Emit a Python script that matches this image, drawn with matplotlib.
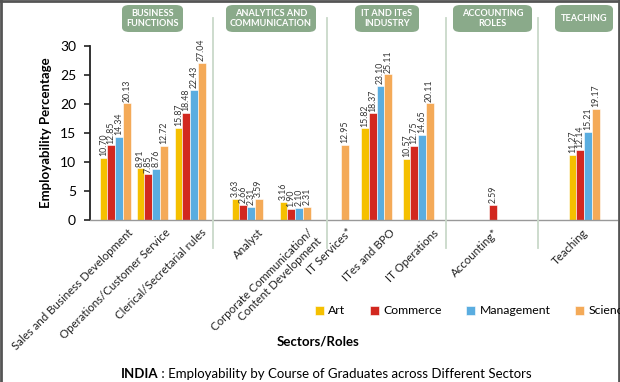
import numpy as np
import matplotlib.pyplot as plt
import matplotlib.transforms as mtrans
from matplotlib.patches import FancyBboxPatch
from matplotlib.lines import Line2D

plt.rcParams['font.family'] = ['Lato', 'DejaVu Sans']

# ~~~~~~~~~~ DATA ~~~~~~~~~~
roles = ['Sales and Business Development', 'Operations/Customer Service',
         'Clerical/Secretarial rules', 'Analyst',
         'Corporate Communication/\nContent Development', 'IT Services*',
         'ITes and BPO', 'IT Operations', 'Accounting*', 'Teaching']
courses = ['Art', 'Commerce', 'Management', 'Science']
art = [10.70, 8.91, 15.87, 3.63, 3.16, np.nan, 15.82, 10.57, np.nan, 11.27]
commerce = [12.85, 7.85, 18.48, 2.66, 1.90, np.nan, 18.37, 12.75, 2.59, 12.14]
management = [14.34, 8.76, 22.43, 2.31, 2.10, np.nan, 23.10, 14.65, np.nan, 15.21]
science = [20.13, 12.72, 27.04, 3.59, 2.31, 12.95, 25.11, 20.11, np.nan, 19.17]
sectors = ['BUSINESS\nFUNCTIONS', 'ANALYTICS AND\nCOMMUNICATION', 'IT AND ITeS\nINDUSTRY',
           'ACCOUNTING\nROLES', 'TEACHING']

# layout (axes units = pixels from left of axes)
xpos = np.array([25, 62, 100, 157, 205, 243, 286.5, 328, 407, 494])
lab_dx = [12, 13, 11, 11, 12, 14, 13, 15, -4, -2]   # label shift right, px
seps = [123, 237, 356, 448]
boxes = [(122, 183), (226, 316), (355, 419), (453, 532), (555, 613)]
colors = ['#f5c000', '#d2281f', '#5aade0', '#f4aa58']
bw = 7.75
W, H = 620, 382

fig = plt.figure(figsize=(6.2, 3.82), dpi=100)
ax = fig.add_axes([90 / W, 1 - 220 / H, 527 / W, 174 / H])

series = [art, commerce, management, science]
for j, vals in enumerate(series):
    xs = xpos + (j - 1.5) * bw
    ax.bar(xs, vals, width=bw, color=colors[j], edgecolor='white', linewidth=0.4, label=courses[j])
    for x, v in zip(xs, vals):
        if not np.isnan(v):
            ax.text(x, v + 0.3, '%.2f' % v, rotation=90, ha='center', va='bottom',
                    fontsize=6.3, color='#333333', clip_on=False)

ax.set_xlim(0, 527)
ax.set_ylim(0, 30)
ax.set_yticks(range(0, 31, 5))
ax.tick_params(axis='y', labelsize=10, length=4, width=1.2, color='#222222', pad=6)
ax.set_xticks(xpos)
ax.set_xticklabels(roles, rotation=45, ha='right', rotation_mode='anchor', fontsize=8.3,
                   color='#222222', linespacing=1.1)
ax.tick_params(axis='x', length=0, pad=5)
for lab, dx in zip(ax.get_xticklabels(), lab_dx):
    lab.set_transform(lab.get_transform() + mtrans.ScaledTranslation(dx / 100, 0, fig.dpi_scale_trans))
for s in ['top', 'right']:
    ax.spines[s].set_visible(False)
ax.spines['left'].set_color('#222222')
ax.spines['left'].set_linewidth(1.3)
ax.spines['bottom'].set_color('#999999')
ax.spines['bottom'].set_linewidth(1.0)
ax.set_ylabel('Employability Percentage', fontsize=9.5, fontweight='bold', labelpad=6)

# sector separators
for sx in seps:
    fig.add_artist(Line2D([(90 + sx) / W] * 2, [1 - 18 / H, 1 - 248 / H],
                          color='#c9d9c9', linewidth=1.3))

# sector label boxes
for (x0, x1), name in zip(boxes, sectors):
    fig.add_artist(FancyBboxPatch((x0 / W, 1 - 32 / H), (x1 - x0) / W, 27 / H,
                                  boxstyle='round,pad=0,rounding_size=0.012',
                                  facecolor='#8aaa8a', edgecolor='none'))
    fig.text((x0 + x1) / 2 / W, 1 - 18.5 / H, name, ha='center', va='center',
             fontsize=6.6, fontweight='bold', color='white', linespacing=1.2)

leg = fig.legend(loc='center left', bbox_to_anchor=(315 / W, 1 - 311 / H), ncol=4,
                 frameon=False, fontsize=8.8, handlelength=0.7, handleheight=0.7,
                 columnspacing=2.0, handletextpad=0.4, borderaxespad=0, borderpad=0)

fig.text(318 / W, 1 - 342 / H, 'Sectors/Roles', ha='center', va='center', fontsize=9.5, fontweight='bold')
fig.text(158 / W, 1 - 374 / H, 'INDIA', ha='right', va='center', fontsize=9.5, fontweight='bold')
fig.text(158 / W, 1 - 374 / H, ' : Employability by Course of Graduates across Different Sectors',
         ha='left', va='center', fontsize=9.5)

# frame
for xs_, ys_ in [([0.001, 0.001], [0, 1]), ([0, 1], [0.998, 0.998]), ([619 / W, 619 / W], [0, 1])]:
    fig.add_artist(Line2D(xs_, ys_, color='#555555', linewidth=2))

fig.savefig('out.png', dpi=100)
